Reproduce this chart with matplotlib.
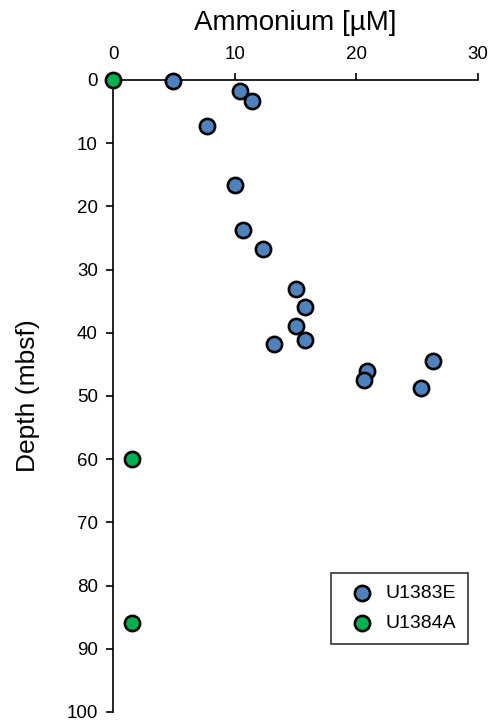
import matplotlib
matplotlib.use('Agg')
import matplotlib.pyplot as plt

plt.rcParams['font.family'] = ['Liberation Sans', 'DejaVu Sans']

# Ammonium profiles (uM) vs depth (mbsf)
u1383e_nh4 = [4.9, 10.4, 11.4, 7.7, 10.0, 10.7, 12.3, 15.0, 15.8, 15.0, 13.2, 15.8, 20.9, 20.6, 26.3, 25.3]
u1383e_depth = [0.2, 1.7, 3.3, 7.3, 16.6, 23.8, 26.8, 33.0, 35.9, 38.9, 41.7, 41.1, 46.0, 47.4, 44.5, 48.8]

u1384a_nh4 = [0.0, 1.6, 1.6]
u1384a_depth = [0.0, 60.0, 85.9]

x_ticks = [0, 10, 20, 30]
y_ticks = list(range(0, 101, 10))

fig = plt.figure(figsize=(4.88, 7.22), dpi=100)
ax = fig.add_axes([0.2316, 0.0139, 0.748, 0.8753])

ax.scatter(u1383e_nh4, u1383e_depth, s=120, color='#4F81BD', edgecolor='black',
           linewidth=1.9, label='U1383E', zorder=3, clip_on=False)
ax.scatter(u1384a_nh4, u1384a_depth, s=120, color='#00B050', edgecolor='black',
           linewidth=1.9, label='U1384A', zorder=3, clip_on=False)

ax.set_xlim(0, 30)
ax.set_ylim(100, 0)
ax.set_xticks(x_ticks)
ax.set_yticks(y_ticks)

ax.xaxis.tick_top()
ax.xaxis.set_label_position('top')
ax.spines['right'].set_visible(False)
ax.spines['bottom'].set_visible(False)
for s in ['top', 'left']:
    ax.spines[s].set_linewidth(1.2)
ax.tick_params(direction='out', length=5, width=1.2, labelsize=13.5)
ax.tick_params(axis='y', pad=6)
ax.tick_params(axis='x', pad=7)

ax.set_xlabel('Ammonium [µM]', fontsize=20, labelpad=12)
ax.set_ylabel('Depth (mbsf)', fontsize=19, labelpad=19)

leg = ax.legend(loc='lower right', bbox_to_anchor=(0.9726, 0.1076), borderaxespad=0,
                fontsize=14, frameon=True, fancybox=False, edgecolor='black',
                borderpad=0.6, handletextpad=0.2, labelspacing=0.65, markerscale=1.0)
leg.get_frame().set_linewidth(1.2)

plt.savefig('out.png', dpi=100)
plt.close()
